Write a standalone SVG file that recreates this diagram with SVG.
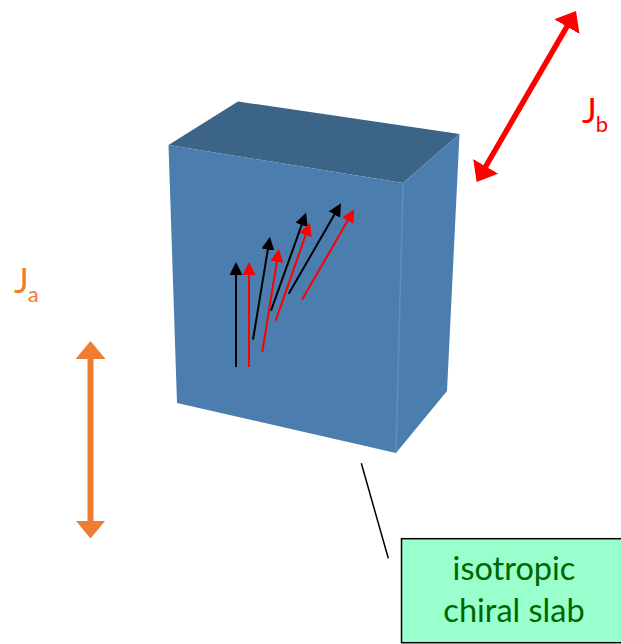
<svg xmlns="http://www.w3.org/2000/svg" width="621" height="644" viewBox="0 0 621 644">
<style>
.face{fill:#4b7eae}
.top{fill:#3b6486}
.edge{fill:none;stroke:#5a8fc2;stroke-width:1.5}
.thin{fill:none;stroke-width:2}
.k{stroke:#000;marker-end:url(#hk)}
.r{stroke:#f00;marker-end:url(#hr)}
.lbl{font-family:"Lato","Open Sans",sans-serif}
</style>
<defs>
<marker id="hk" markerUnits="userSpaceOnUse" markerWidth="13" markerHeight="13" viewBox="0 0 13 13" refX="4" refY="6.5" orient="auto"><path d="M0 0L13 6.5L0 13Z" fill="#000"/></marker>
<marker id="hr" markerUnits="userSpaceOnUse" markerWidth="13" markerHeight="13" viewBox="0 0 13 13" refX="4" refY="6.5" orient="auto"><path d="M0 0L13 6.5L0 13Z" fill="#f00"/></marker>
<marker id="bigr" markerUnits="userSpaceOnUse" markerWidth="18" markerHeight="29" viewBox="0 0 18 29" refX="8" refY="14.5" orient="auto-start-reverse"><path d="M0 0L18 14.5L0 29Z" fill="#f00"/></marker>
<marker id="bigo" markerUnits="userSpaceOnUse" markerWidth="18" markerHeight="30" viewBox="0 0 18 30" refX="8" refY="15" orient="auto-start-reverse"><path d="M0 0L18 15L0 30Z" fill="#ed7d31"/></marker>
</defs>
<g id="slab">
<polygon class="top" points="168.500,145 238,101.500 459.500,134 403,183"/>
<polygon class="face" points="168.500,145 403,183 396,453 177,403"/>
<polygon class="face" points="403,183 459.500,134 447,391 396,453"/>
<path class="edge" d="M403 184L396 452"/>
</g>
<g id="connectors">
<line class="thin k" x1="236" y1="367" x2="236" y2="271"/>
<line class="thin r" x1="249" y1="367" x2="249" y2="271"/>
<line class="thin k" x1="253" y1="339.700" x2="268.500" y2="245.600"/>
<line class="thin r" x1="262.300" y1="352" x2="277.500" y2="257.900"/>
<line class="thin k" x1="271" y1="310.700" x2="303" y2="221.200"/>
<line class="thin r" x1="275.700" y1="320.700" x2="307" y2="231.200"/>
<line class="thin k" x1="288.700" y1="293.700" x2="336.500" y2="211.100"/>
<line class="thin r" x1="302" y1="299.700" x2="349.800" y2="217.100"/>
<line x1="481.700" y1="173.300" x2="571" y2="19.700" stroke="#f00" stroke-width="5.500" marker-start="url(#bigr)" marker-end="url(#bigr)"/>
<line x1="90.500" y1="351" x2="90.500" y2="528.500" stroke="#ed7d31" stroke-width="6" marker-start="url(#bigo)" marker-end="url(#bigo)"/>
<line x1="361.300" y1="463.300" x2="388.300" y2="558.300" stroke="#000" stroke-width="1.500"/>
</g>
<g id="label-ja">
<text class="lbl" x="14" y="293" font-size="35" fill="#ed7d31">J<tspan font-size="22" dy="9" dx="-1">a</tspan></text>
</g>
<g id="label-jb">
<text class="lbl" x="582" y="123" font-size="35" fill="#f00">J<tspan font-size="22" dy="9" dx="-1">b</tspan></text>
</g>
<g id="box">
<rect x="401.500" y="538.700" width="225" height="104" fill="#99ffcc" stroke="#000" stroke-width="1.500"/>
<text class="lbl" x="514" y="580" text-anchor="middle" font-size="32.500" fill="#006600">isotropic</text>
<text class="lbl" x="514" y="622" text-anchor="middle" font-size="32.500" fill="#006600">chiral slab</text>
</g>
</svg>
